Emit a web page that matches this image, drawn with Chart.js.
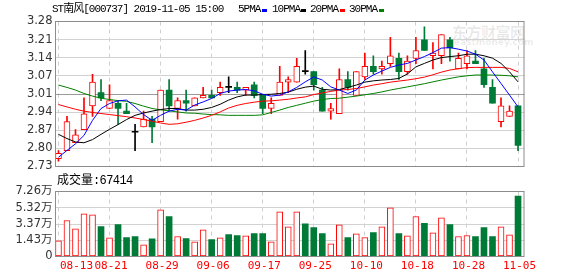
<!DOCTYPE html>
<html><head><meta charset="utf-8">
<script src="https://cdn.jsdelivr.net/npm/chart.js@4.4.0/dist/chart.umd.min.js"></script>
<style>
html,body{margin:0;padding:0;background:#fff;width:578px;height:276px;overflow:hidden;}
#wrap{position:relative;width:578px;height:276px;}
canvas{position:absolute;left:0;top:0;}
.t{position:absolute;white-space:nowrap;font-size:11px;line-height:13px;font-family:"Liberation Mono","Noto Sans CJK SC",monospace;letter-spacing:-1px;color:#000;}
.sw{position:absolute;width:5px;height:3px;top:9px;}
.wm{position:absolute;white-space:nowrap;color:rgba(0,0,0,0.09);font-weight:bold;}
</style></head>
<body><div id="wrap">
<div class="wm" style="left:452px;top:21px;font-size:15px;font-family:'Noto Sans CJK SC';letter-spacing:-0.5px;">东方财富网</div>
<div class="wm" style="left:454px;top:37px;font-size:9px;font-family:'DejaVu Sans';">eastmoney.com</div>
<canvas id="vol" width="578" height="276"></canvas>
<canvas id="main" width="578" height="276"></canvas>
<div class="t" style="left:52px;top:3px">ST南风[000737] 2019-11-05 15:00</div>
<div class="t" style="left:238px;top:3px">5PMA</div><div class="sw" style="left:262px;background:#0000ff"></div>
<div class="t" style="left:272px;top:3px">10PMA</div><div class="sw" style="left:301px;background:#000"></div>
<div class="t" style="left:310px;top:3px">20PMA</div><div class="sw" style="left:340px;background:#ff0000"></div>
<div class="t" style="left:349px;top:3px">30PMA</div><div class="sw" style="left:379px;background:#008000"></div>
<div id="volTitle" style="position:absolute;left:57px;top:171px;white-space:nowrap;font-size:12px;line-height:15px;font-family:'Noto Sans CJK SC';color:#000;"></div>
</div>
<script>
// ---- data ----
const dates = ['08-13','08-14','08-15','08-16','08-19','08-20','08-21','08-22','08-23','08-26','08-27','08-28','08-29','08-30',
 '09-02','09-03','09-04','09-05','09-06','09-09','09-10','09-11','09-12','09-16','09-17','09-18','09-19','09-20','09-23','09-24','09-25','09-26','09-27','09-30',
 '10-08','10-09','10-10','10-11','10-14','10-15','10-16','10-17','10-18','10-21','10-22','10-23','10-24','10-25','10-28','10-29','10-30','10-31',
 '11-01','11-04','11-05'];
const open  = [2.76,2.79,2.82,2.87,2.96,3.01,2.95,2.97,2.94,2.86,2.88,2.91,2.90,3.02,2.95,2.98,2.96,2.99,3.00,3.01,3.03,3.03,3.02,3.04,3.00,2.95,3.00,3.05,3.05,3.09,3.09,3.02,2.94,2.93,3.06,3.00,3.07,3.11,3.10,3.12,3.14,3.09,3.14,3.21,3.15,3.15,3.21,3.10,3.12,3.13,3.10,3.03,2.90,2.92,2.96];
const high  = [2.79,2.92,2.87,2.99,3.08,3.06,3.04,2.98,2.97,2.89,2.94,2.92,3.02,3.06,2.99,3.02,2.99,3.03,3.02,3.05,3.07,3.05,3.03,3.05,3.00,2.99,3.11,3.07,3.14,3.17,3.09,3.03,2.97,3.10,3.09,3.09,3.16,3.15,3.13,3.22,3.16,3.15,3.22,3.26,3.20,3.23,3.22,3.16,3.17,3.17,3.14,3.06,2.99,2.96,2.96];
const low   = [2.75,2.79,2.82,2.87,2.92,2.98,2.95,2.89,2.93,2.79,2.88,2.82,2.90,2.94,2.91,2.94,2.96,2.99,2.99,3.00,3.01,3.01,3.00,2.99,2.93,2.93,3.00,3.01,3.05,3.08,3.02,2.94,2.91,2.93,3.02,3.00,3.06,3.08,3.08,3.11,3.06,3.08,3.12,3.17,3.10,3.12,3.13,3.10,3.10,3.12,3.03,2.97,2.88,2.92,2.79];
const close = [2.78,2.90,2.85,2.93,3.05,2.99,2.98,2.95,2.93,2.86,2.91,2.88,3.02,2.96,2.98,2.97,2.99,3.00,2.99,3.03,3.03,3.02,3.03,3.00,2.95,2.97,3.05,3.06,3.11,3.09,3.04,2.94,2.95,3.06,3.03,3.09,3.11,3.09,3.11,3.15,3.09,3.13,3.17,3.17,3.16,3.23,3.18,3.14,3.15,3.12,3.04,2.97,2.96,2.94,2.81];
const volume = [17480,40230,30870,47650,46620,33470,20880,35690,21240,22310,13020,19730,52080,44720,22290,20130,16420,29760,18980,20870,24590,23480,23120,25680,25710,16390,49870,33190,49910,36480,32420,25690,14230,35380,21170,25310,21230,26790,33210,54380,25730,23090,44680,36910,26410,43180,35660,22320,23490,22310,32380,22270,33230,24180,67414];
const ma5  = [2.765,2.791,2.816,2.848,2.905,2.950,2.969,2.979,2.982,2.956,2.927,2.905,2.924,2.940,2.947,2.944,2.963,2.975,2.988,3.007,3.016,3.020,3.022,3.017,3.004,2.997,3.001,3.013,3.030,3.051,3.070,3.058,3.032,3.020,3.007,3.020,3.058,3.077,3.092,3.106,3.115,3.121,3.134,3.147,3.162,3.179,3.181,3.175,3.168,3.156,3.134,3.089,3.045,3.001,2.956];
const ma10 = [2.852,2.836,2.823,2.820,2.832,2.852,2.871,2.889,2.908,2.924,2.933,2.940,2.946,2.950,2.950,2.944,2.944,2.947,2.954,2.966,2.982,2.994,3.001,3.001,3.003,3.004,3.007,3.012,3.023,3.031,3.035,3.023,3.020,3.022,3.030,3.039,3.050,3.055,3.058,3.060,3.064,3.081,3.108,3.121,3.134,3.143,3.147,3.150,3.156,3.156,3.150,3.141,3.121,3.089,3.051];
const ma20 = [2.965,2.956,2.947,2.940,2.935,2.931,2.927,2.923,2.919,2.914,2.908,2.902,2.895,2.890,2.892,2.898,2.905,2.914,2.924,2.937,2.952,2.962,2.969,2.974,2.978,2.979,2.982,2.985,2.990,2.994,3.003,3.009,3.015,3.020,3.022,3.026,3.032,3.039,3.044,3.050,3.054,3.058,3.063,3.069,3.078,3.088,3.096,3.101,3.105,3.106,3.106,3.106,3.106,3.102,3.089];
const ma30 = [3.039,3.030,3.020,3.007,2.997,2.989,2.984,2.980,2.977,2.969,2.959,2.950,2.945,2.941,2.937,2.933,2.932,2.929,2.927,2.926,2.924,2.924,2.924,2.924,2.926,2.935,2.944,2.954,2.962,2.970,2.978,2.984,2.988,2.989,2.993,2.997,3.002,3.007,3.013,3.020,3.026,3.032,3.038,3.044,3.051,3.058,3.064,3.070,3.074,3.077,3.077,3.077,3.076,3.074,3.070];
const priceTickLabels = ['2.73','2.80','2.87','2.94','3.01','3.07','3.14','3.21','3.28'];
const priceMin = 2.73, priceMax = 3.28;
const volTickLabels = ['0','1.43万','3.37万','5.32万','7.26万'];
const volMax = 72600;
const labelEvery = 6;

// ---- styling ----
const RED = '#ff0000', GREEN = '#007a37', BLACK = '#000000';
const X_MIN = -0.29, X_MAX = 54.76;
const tickIdx = dates.map((d,i)=>i).filter(i => i % labelEvery === 0);

const candleColor = close.map((c,i)=> c>open[i] ? RED : (c<open[i] ? GREEN : BLACK));
const isUp = close.map((c,i)=> c>open[i]);

const framePlugin = {
  id:'frame',
  afterDraw(chart){
    const {ctx, chartArea:a} = chart;
    ctx.save();
    ctx.strokeStyle = '#8c8c8c'; ctx.lineWidth = 1;
    ctx.strokeRect(a.left-0.5, a.top, a.right-a.left, a.bottom-a.top);
    ctx.restore();
  }
};

const commonX = (showLabels) => ({
  type:'linear', min:X_MIN, max:X_MAX, offset:false,
  grid:{color:'#cfcfcf', lineWidth:1, drawTicks:false, offset:false},
  border:{display:false, dash:[4,4]},
  afterBuildTicks: s => { s.ticks = tickIdx.map(v=>({value:v})); },
  ticks: showLabels ? {
    autoSkip:false, maxRotation:0, padding:3, labelOffset:1.5,
    color:RED, font:{family:'DejaVu Sans Mono', size:11},
    callback:(v,i)=> i===0 ? '     '+dates[tickIdx[i]] : dates[tickIdx[i]]
  } : {display:false},
  afterFit: s => { s.height = showLabels ? 19.5 : 0; }
});

// ---- main candlestick chart ----
const priceStep = (priceMax-priceMin)/(priceTickLabels.length-1);
new Chart(document.getElementById('main'), {
  type:'bar',
  data:{ datasets:[
    {type:'line', data:ma5.map((v,i)=>({x:i,y:v})), borderColor:'#0000ff', borderWidth:1, pointRadius:0, tension:0, order:0},
    {type:'line', data:ma10.map((v,i)=>({x:i,y:v})), borderColor:'#000000', borderWidth:1, pointRadius:0, tension:0, order:0},
    {type:'line', data:ma20.map((v,i)=>({x:i,y:v})), borderColor:'#ff0000', borderWidth:1, pointRadius:0, tension:0, order:0},
    {type:'line', data:ma30.map((v,i)=>({x:i,y:v})), borderColor:'#008000', borderWidth:1, pointRadius:0, tension:0, order:0},
    {data:open.map((o,i)=>({x:i,y:[o,close[i]]})), backgroundColor:isUp.map((u,i)=>u?'#ffffff':candleColor[i]),
      borderColor:candleColor, borderWidth:isUp.map(u=>u?1:0), borderSkipped:false, barThickness:6, minBarLength:1, grouped:false, order:1},
    {data:low.map((l,i)=>({x:i,y:[l,high[i]]})), backgroundColor:candleColor, borderWidth:0, barThickness:1, grouped:false, order:2}
  ]},
  options:{
    responsive:false, animation:false, events:[],
    layout:{padding:{top:21.5, bottom:109.5, left:0, right:53.5}},
    plugins:{legend:{display:false}, tooltip:{enabled:false}},
    scales:{
      x: commonX(false),
      y:{
        min:priceMin, max:priceMax,
        afterBuildTicks: s => { s.ticks = priceTickLabels.map((t,k)=>({value: priceMin + k*priceStep})); },
        ticks:{autoSkip:false, padding:3.5, color:'#333', font:{family:'DejaVu Sans', size:11.5}, callback:(v,i)=>priceTickLabels[i]},
        grid:{drawTicks:false, color: c => c.index===4 ? '#9a9a9a' : '#d2d2d2', lineWidth:1},
        border:{display:false},
        afterFit: s => { s.width = 56; }
      }
    }
  },
  plugins:[framePlugin]
});

// ---- volume chart ----
const volStep = volMax/(volTickLabels.length-1);
new Chart(document.getElementById('vol'), {
  type:'bar',
  data:{ datasets:[
    {data:volume.map((v,i)=>({x:i,y:v})), backgroundColor:isUp.map(u=>u?'#ffffff':GREEN),
     borderColor:isUp.map(u=>u?RED:GREEN), borderWidth:isUp.map(u=>u?1:0), borderSkipped:false, barThickness:6, grouped:false}
  ]},
  options:{
    responsive:false, animation:false, events:[],
    layout:{padding:{top:191.5, bottom:0, left:0, right:53.5}},
    plugins:{legend:{display:false}, tooltip:{enabled:false}},
    scales:{
      x: commonX(true),
      y:{
        min:0, max:volMax,
        afterBuildTicks: s => { s.ticks = volTickLabels.map((t,k)=>({value:k*volStep})); },
        ticks:{autoSkip:false, padding:3.5, color:'#333', font:{family:"'DejaVu Sans','Noto Sans CJK SC'", size:11.5}, callback:(v,i)=>volTickLabels[i]},
        grid:{drawTicks:false, color:'#d2d2d2', lineWidth:1},
        border:{display:false},
        afterFit: s => { s.width = 56; }
      }
    }
  },
  plugins:[framePlugin]
});

document.getElementById('volTitle').innerHTML = '成交量<span style="font-family:\'Liberation Mono\';letter-spacing:-0.6px">:' + volume[volume.length-1] + '</span>';
</script>
</body></html>
